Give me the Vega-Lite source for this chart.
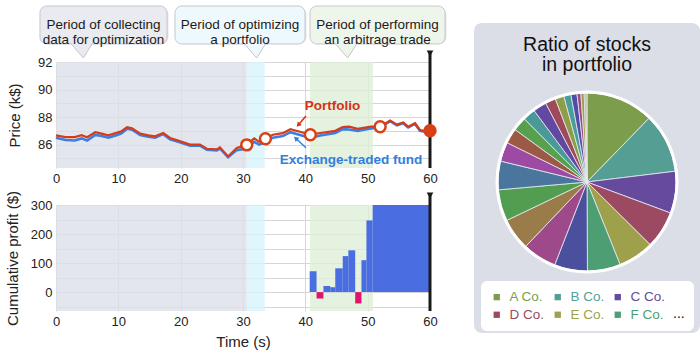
{
  "$schema": "https://vega.github.io/schema/vega-lite/v6.json",
  "padding": {"left": 5, "top": 0, "right": 2, "bottom": 3},
  "background": "white",
  "config": {
    "font": "Liberation Sans",
    "view": {"stroke": null},
    "axis": {"domain": false, "ticks": false, "labelFontSize": 13, "titleFontSize": 15, "titleFontWeight": "normal", "labelColor": "#222", "titleColor": "#222", "gridColor": "#d6d6d6", "gridOpacity": 1, "labelPadding": 4, "labelOverlap": false}
  },
  "datasets": {
    "periods": [
      {"period": "collect", "start": 0, "end": 30.6},
      {"period": "optimize", "start": 30.6, "end": 33.5},
      {"period": "trade", "start": 40.75, "end": 50.85}
    ],
    "callouts": [
      {"period": "collect", "text": "Period of collecting\ndata for optimization", "x0": -2.57, "x1": 17.81, "tip": 4.38},
      {"period": "optimize", "text": "Period of optimizing\na portfolio", "x0": 19.09, "x1": 39.95, "tip": 32.2},
      {"period": "trade", "text": "Period of performing\nan arbitrage trade", "x0": 40.75, "x1": 62.41, "tip": 46.8}
    ],
    "prices": [
      {"t": 0, "portfolio": 86.67, "etf": 86.5},
      {"t": 1.5, "portfolio": 86.55, "etf": 86.33},
      {"t": 3.0, "portfolio": 86.55, "etf": 86.3},
      {"t": 4.1, "portfolio": 86.68, "etf": 86.45},
      {"t": 5.0, "portfolio": 86.53, "etf": 86.3},
      {"t": 6.3, "portfolio": 86.9, "etf": 86.7},
      {"t": 7.3, "portfolio": 86.8, "etf": 86.62},
      {"t": 8.4, "portfolio": 86.67, "etf": 86.5},
      {"t": 9.7, "portfolio": 86.85, "etf": 86.68},
      {"t": 10.5, "portfolio": 86.97, "etf": 86.82},
      {"t": 11.4, "portfolio": 87.26, "etf": 87.15},
      {"t": 12.2, "portfolio": 87.18, "etf": 87.08},
      {"t": 13.5, "portfolio": 86.8, "etf": 86.7},
      {"t": 14.8, "portfolio": 86.67, "etf": 86.57},
      {"t": 15.9, "portfolio": 86.6, "etf": 86.5},
      {"t": 17.2, "portfolio": 86.85, "etf": 86.76},
      {"t": 18.3, "portfolio": 86.48, "etf": 86.38},
      {"t": 19.6, "portfolio": 86.29, "etf": 86.2},
      {"t": 21.5, "portfolio": 86.0, "etf": 85.92},
      {"t": 23.1, "portfolio": 86.0, "etf": 85.92},
      {"t": 24.2, "portfolio": 85.7, "etf": 85.62},
      {"t": 25.8, "portfolio": 85.65, "etf": 85.57},
      {"t": 26.3, "portfolio": 85.8, "etf": 85.72},
      {"t": 27.6, "portfolio": 85.14, "etf": 85.08},
      {"t": 29.0, "portfolio": 85.75, "etf": 85.6},
      {"t": 30.6, "portfolio": 85.98, "etf": 85.72},
      {"t": 31.8, "portfolio": 86.45, "etf": 86.2},
      {"t": 32.6, "portfolio": 86.2, "etf": 86.0},
      {"t": 33.6, "portfolio": 86.42, "etf": 86.18},
      {"t": 34.8, "portfolio": 86.72, "etf": 86.5},
      {"t": 36.4, "portfolio": 86.83, "etf": 86.62},
      {"t": 37.6, "portfolio": 87.12, "etf": 86.9},
      {"t": 39.0, "portfolio": 86.95, "etf": 86.72},
      {"t": 40.8, "portfolio": 86.72, "etf": 86.48},
      {"t": 42.4, "portfolio": 86.84, "etf": 86.66},
      {"t": 44.8, "portfolio": 87.0, "etf": 86.85},
      {"t": 46.0, "portfolio": 87.28, "etf": 87.12},
      {"t": 47.0, "portfolio": 87.3, "etf": 87.1},
      {"t": 48.4, "portfolio": 87.15, "etf": 87.0},
      {"t": 50.5, "portfolio": 87.3, "etf": 87.18},
      {"t": 52.0, "portfolio": 87.3, "etf": 87.22},
      {"t": 53.6, "portfolio": 87.74, "etf": 87.7},
      {"t": 54.7, "portfolio": 87.45, "etf": 87.4},
      {"t": 55.7, "portfolio": 87.6, "etf": 87.55},
      {"t": 56.5, "portfolio": 87.3, "etf": 87.25},
      {"t": 57.6, "portfolio": 87.55, "etf": 87.5},
      {"t": 58.4, "portfolio": 87.05, "etf": 87.0},
      {"t": 59.5, "portfolio": 86.97, "etf": 86.92},
      {"t": 60, "portfolio": 87.0, "etf": 86.95}
    ],
    "markers": [
      {"t": 30.6, "price": 85.98, "kind": "trade"},
      {"t": 33.6, "price": 86.42, "kind": "trade"},
      {"t": 40.8, "price": 86.72, "kind": "trade"},
      {"t": 52.0, "price": 87.3, "kind": "trade"},
      {"t": 60, "price": 87.0, "kind": "now"}
    ],
    "seriesLabels": [
      {"label": "Portfolio", "series": "portfolio", "t": 44.36, "p": 88.8},
      {"label": "Exchange-traded fund", "series": "etf", "t": 47.33, "p": 84.88}
    ],
    "arrows": [
      {"series": "portfolio", "t0": 40.1, "p0": 88.08, "t1": 38.87, "p1": 87.42},
      {"series": "etf", "t0": 40.1, "p0": 85.77, "t1": 38.46, "p1": 86.46}
    ],
    "profits": [
      {"t0": 40.7, "t1": 41.8, "profit": 72},
      {"t0": 41.8, "t1": 42.9, "profit": -22},
      {"t0": 42.9, "t1": 44.0, "profit": 21},
      {"t0": 44.0, "t1": 44.8, "profit": 17},
      {"t0": 44.8, "t1": 46.0, "profit": 82},
      {"t0": 46.0, "t1": 46.9, "profit": 124},
      {"t0": 46.9, "t1": 48.0, "profit": 144},
      {"t0": 48.0, "t1": 49.0, "profit": -39},
      {"t0": 49.0, "t1": 49.8, "profit": 110},
      {"t0": 49.8, "t1": 50.8, "profit": 247},
      {"t0": 50.8, "t1": 60, "profit": 300}
    ],
    "now": [{"now": 60, "top": 92, "bottom": 84.3, "ptop": 300, "pbottom": -65}],
    "stocks": [
      {"name": "A Co.", "share": 12.3}, {"name": "B Co.", "share": 10.8}, {"name": "C Co.", "share": 7.6},
      {"name": "D Co.", "share": 6.8}, {"name": "E Co.", "share": 6.5}, {"name": "F Co.", "share": 6.0},
      {"name": "G Co.", "share": 6.0}, {"name": "H Co.", "share": 6.2}, {"name": "I Co.", "share": 5.8},
      {"name": "J Co.", "share": 5.7}, {"name": "K Co.", "share": 5.2}, {"name": "L Co.", "share": 3.5},
      {"name": "M Co.", "share": 2.75}, {"name": "N Co.", "share": 2.55}, {"name": "O Co.", "share": 2.3},
      {"name": "P Co.", "share": 2.45}, {"name": "Q Co.", "share": 1.9}, {"name": "R Co.", "share": 1.6},
      {"name": "S Co.", "share": 1.3}, {"name": "T Co.", "share": 1.1}, {"name": "U Co.", "share": 0.7},
      {"name": "V Co.", "share": 0.6}, {"name": "W Co.", "share": 0.3}, {"name": "X Co.", "share": 0.2}
    ]
  },
  "hconcat": [
    {
      "vconcat": [
        {
          "width": 374,
          "height": 38,
          "data": {"name": "callouts"},
          "layer": [
            {
              "mark": {"type": "rect", "cornerRadius": 7, "fill": "#000", "opacity": 0.1, "xOffset": 1.5, "x2Offset": 1.5, "yOffset": 2, "y2Offset": 2},
              "encoding": {
                "x": {"field": "x0", "type": "quantitative", "scale": {"domain": [0, 60], "nice": false}, "axis": null},
                "x2": {"field": "x1"}
              }
            },
            {
              "mark": {"type": "rect", "cornerRadius": 7, "stroke": "#c5c7cd", "strokeWidth": 1},
              "encoding": {
                "x": {"field": "x0", "type": "quantitative", "scale": {"domain": [0, 60], "nice": false}, "axis": null},
                "x2": {"field": "x1"},
                "fill": {"condition": [{"test": "datum.period === 'collect'", "value": "#e9ebf1"}, {"test": "datum.period === 'optimize'", "value": "#eef9fd"}], "value": "#eef6eb"}
              }
            },
            {
              "mark": {"type": "point", "shape": "M -1.33 1.75 L 0 3.3 L 0.97 1.75", "size": 400, "filled": true, "opacity": 1, "stroke": "#c5c7cd", "strokeWidth": 1},
              "encoding": {
                "x": {"field": "tip", "type": "quantitative", "scale": {"domain": [0, 60], "nice": false}, "axis": null},
                "fill": {"condition": [{"test": "datum.period === 'collect'", "value": "#e9ebf1"}, {"test": "datum.period === 'optimize'", "value": "#eef9fd"}], "value": "#eef6eb"}
              }
            },
            {
              "transform": [{"calculate": "(datum.x0 + datum.x1) / 2", "as": "mid"}],
              "mark": {"type": "text", "fontSize": 13.5, "lineHeight": 15, "lineBreak": "\n", "align": "center", "baseline": "middle", "color": "#1a1a1a"},
              "encoding": {
                "x": {"field": "mid", "type": "quantitative", "scale": {"domain": [0, 60], "nice": false}, "axis": null},
                "text": {"field": "text"}
              }
            }
          ]
        },
        {
          "vconcat": [
            {
              "width": 374,
              "height": 106,
              "layer": [
                {
                  "data": {"name": "periods"},
                  "mark": {"type": "rect", "opacity": 0.8},
                  "encoding": {
                    "x": {"field": "start", "type": "quantitative", "scale": {"domain": [0, 60], "nice": false}, "axis": {"values": [0, 10, 20, 30, 40, 50, 60], "tickCount": 20, "format": "d", "title": null, "grid": true, "labelFlush": false}},
                    "x2": {"field": "end"},
                    "fill": {"condition": [{"test": "datum.period === 'collect'", "value": "#dde0ea"}, {"test": "datum.period === 'optimize'", "value": "#d8f4fc"}], "value": "#deefd8"}
                  }
                },
                {
                  "data": {"name": "prices"},
                  "mark": {"type": "line", "color": "#3a80e0", "strokeWidth": 2.6},
                  "encoding": {
                    "x": {"field": "t", "type": "quantitative", "scale": {"domain": [0, 60], "nice": false}},
                    "y": {"field": "etf", "type": "quantitative", "scale": {"domain": [84.3, 92], "nice": false, "zero": false}, "axis": {"title": "Price (k$)", "values": [85, 86, 87, 88, 89, 90, 91, 92], "tickCount": 20, "format": "d", "labelExpr": "datum.value % 2 === 0 ? datum.label : ''", "grid": true, "titlePadding": 15}}
                  }
                },
                {
                  "data": {"name": "prices"},
                  "mark": {"type": "line", "color": "#d63c1c", "strokeWidth": 2.2},
                  "encoding": {
                    "x": {"field": "t", "type": "quantitative", "scale": {"domain": [0, 60], "nice": false}},
                    "y": {"field": "portfolio", "type": "quantitative", "scale": {"domain": [84.3, 92], "nice": false, "zero": false}}
                  }
                },
                {
                  "data": {"name": "now"},
                  "mark": {"type": "rule", "color": "#1a1a1a", "strokeWidth": 3, "yOffset": -11},
                  "encoding": {
                    "x": {"field": "now", "type": "quantitative", "scale": {"domain": [0, 60], "nice": false}},
                    "y": {"field": "top", "type": "quantitative", "scale": {"domain": [84.3, 92], "nice": false, "zero": false}},
                    "y2": {"field": "bottom"}
                  }
                },
                {
                  "data": {"name": "now"},
                  "mark": {"type": "point", "shape": "triangle-down", "filled": true, "size": 45, "color": "#1a1a1a", "opacity": 1, "yOffset": -8.5},
                  "encoding": {
                    "x": {"field": "now", "type": "quantitative", "scale": {"domain": [0, 60], "nice": false}},
                    "y": {"field": "top", "type": "quantitative", "scale": {"domain": [84.3, 92], "nice": false, "zero": false}}
                  }
                },
                {
                  "data": {"name": "markers"},
                  "mark": {"type": "point", "filled": true, "opacity": 1, "stroke": "#d84015", "strokeWidth": 2.5, "size": 120},
                  "encoding": {
                    "x": {"field": "t", "type": "quantitative", "scale": {"domain": [0, 60], "nice": false}},
                    "y": {"field": "price", "type": "quantitative", "scale": {"domain": [84.3, 92], "nice": false, "zero": false}},
                    "fill": {"condition": {"test": "datum.kind === 'now'", "value": "#d84015"}, "value": "white"}
                  }
                },
                {
                  "data": {"name": "arrows"},
                  "mark": {"type": "rule", "strokeWidth": 1.5},
                  "encoding": {
                    "x": {"field": "t0", "type": "quantitative", "scale": {"domain": [0, 60], "nice": false}},
                    "x2": {"field": "t1"},
                    "y": {"field": "p0", "type": "quantitative", "scale": {"domain": [84.3, 92], "nice": false, "zero": false}},
                    "y2": {"field": "p1"},
                    "color": {"condition": {"test": "datum.series === 'etf'", "value": "#2f7fe0"}, "value": "#d83010"}
                  }
                },
                {
                  "data": {"name": "arrows"},
                  "mark": {"type": "point", "shape": "triangle-up", "filled": true, "opacity": 1, "size": 30},
                  "encoding": {
                    "x": {"field": "t1", "type": "quantitative", "scale": {"domain": [0, 60], "nice": false}},
                    "y": {"field": "p1", "type": "quantitative", "scale": {"domain": [84.3, 92], "nice": false, "zero": false}},
                    "angle": {"condition": {"test": "datum.series === 'etf'", "value": 312}, "value": 220},
                    "color": {"condition": {"test": "datum.series === 'etf'", "value": "#2f7fe0"}, "value": "#d83010"}
                  }
                },
                {
                  "data": {"name": "seriesLabels"},
                  "mark": {"type": "text", "fontSize": 13.5, "fontWeight": "bold", "align": "center", "baseline": "middle"},
                  "encoding": {
                    "x": {"field": "t", "type": "quantitative", "scale": {"domain": [0, 60], "nice": false}},
                    "y": {"field": "p", "type": "quantitative", "scale": {"domain": [84.3, 92], "nice": false, "zero": false}},
                    "text": {"field": "label"},
                    "color": {"condition": {"test": "datum.series === 'etf'", "value": "#2f7fe0"}, "value": "#d83010"}
                  }
                }
              ]
            },
            {
              "width": 374,
              "height": 106,
              "layer": [
                {
                  "data": {"name": "periods"},
                  "mark": {"type": "rect", "opacity": 0.8},
                  "encoding": {
                    "x": {"field": "start", "type": "quantitative", "scale": {"domain": [0, 60], "nice": false}, "axis": {"values": [0, 10, 20, 30, 40, 50, 60], "tickCount": 20, "format": "d", "title": "Time (s)", "grid": true, "labelFlush": false, "titlePadding": 6}},
                    "x2": {"field": "end"},
                    "fill": {"condition": [{"test": "datum.period === 'collect'", "value": "#dde0ea"}, {"test": "datum.period === 'optimize'", "value": "#d8f4fc"}], "value": "#deefd8"}
                  }
                },
                {
                  "data": {"name": "profits"},
                  "transform": [{"calculate": "0", "as": "base"}],
                  "mark": {"type": "rect"},
                  "encoding": {
                    "x": {"field": "t0", "type": "quantitative", "scale": {"domain": [0, 60], "nice": false}},
                    "x2": {"field": "t1"},
                    "y": {"field": "profit", "type": "quantitative", "scale": {"domain": [-65, 300], "nice": false, "zero": false}, "axis": {"title": "Cumulative profit ($)", "values": [-50, 0, 50, 100, 150, 200, 250, 300], "tickCount": 20, "format": "d", "labelExpr": "datum.value % 100 === 0 ? datum.label : ''", "grid": true, "titlePadding": 10}},
                    "y2": {"field": "base"},
                    "fill": {"condition": {"test": "datum.profit < 0", "value": "#e0126e"}, "value": "#4a6ee2"}
                  }
                },
                {
                  "data": {"name": "now"},
                  "mark": {"type": "rule", "color": "#1a1a1a", "strokeWidth": 3, "yOffset": -12},
                  "encoding": {
                    "x": {"field": "now", "type": "quantitative", "scale": {"domain": [0, 60], "nice": false}},
                    "y": {"field": "ptop", "type": "quantitative", "scale": {"domain": [-65, 300], "nice": false, "zero": false}},
                    "y2": {"field": "pbottom"}
                  }
                },
                {
                  "data": {"name": "now"},
                  "mark": {"type": "point", "shape": "triangle-down", "filled": true, "size": 45, "color": "#1a1a1a", "opacity": 1, "yOffset": -9.5},
                  "encoding": {
                    "x": {"field": "now", "type": "quantitative", "scale": {"domain": [0, 60], "nice": false}},
                    "y": {"field": "ptop", "type": "quantitative", "scale": {"domain": [-65, 300], "nice": false, "zero": false}}
                  }
                }
              ]
            }
          ],
          "spacing": 37,
          "bounds": "flush"
        }
      ],
      "spacing": 18,
      "bounds": "flush"
    },
    {
      "vconcat": [
        {
          "width": 226,
          "height": 1,
          "data": {"values": [{"blank": ""}]},
          "mark": {"type": "text"},
          "encoding": {"text": {"field": "blank"}}
        },
        {
          "width": 226,
          "height": 310,
          "view": {"fill": "#dbdee7", "cornerRadius": 8, "stroke": null},
          "title": {"text": ["Ratio of stocks", "in portfolio"], "fontSize": 19.5, "fontWeight": "normal", "lineHeight": 20, "offset": -52, "anchor": "middle", "color": "#111"},
          "layer": [
            {
              "data": {"name": "stocks"},
              "mark": {"type": "arc", "outerRadius": 89, "stroke": "#e9ebf2", "strokeWidth": 0.8, "yOffset": 4},
              "encoding": {
                "theta": {"field": "share", "type": "quantitative", "stack": true},
                "order": {"field": "name"},
                "color": {
                  "field": "name",
                  "type": "nominal",
                  "scale": {
                    "domain": ["A Co.", "B Co.", "C Co.", "D Co.", "E Co.", "F Co.", "G Co.", "H Co.", "I Co.", "J Co.", "K Co.", "L Co.", "M Co.", "N Co.", "O Co.", "P Co.", "Q Co.", "R Co.", "S Co.", "T Co.", "U Co.", "V Co.", "W Co.", "X Co."],
                    "range": ["#7c9e4c", "#559e93", "#654a9e", "#9c4a62", "#9ea04c", "#4e9e74", "#4b509e", "#9e4a8a", "#9a7c4a", "#529e50", "#4a769e", "#9c4aa4", "#9c5a46", "#58a04e", "#4a9898", "#6248a0", "#9e4a5a", "#8e9e48", "#4a9e9a", "#4e4ea6", "#a04a78", "#a09e48", "#4aa086", "#9a9a4a"]
                  },
                  "legend": {
                    "orient": "none",
                    "legendX": 7,
                    "legendY": 275,
                    "values": ["A Co.", "B Co.", "C Co.", "D Co.", "E Co.", "F Co."],
                    "columns": 3,
                    "direction": "horizontal",
                    "fillColor": "white",
                    "cornerRadius": 6,
                    "padding": 9,
                    "symbolType": "square",
                    "symbolSize": 40,
                    "symbolStrokeWidth": 0,
                    "symbolOpacity": 1,
                    "labelFontSize": 13.5,
                    "labelOffset": 6,
                    "columnPadding": 6,
                    "rowPadding": 3,
                    "title": "...",
                    "titleOrient": "right",
                    "titleAnchor": "end",
                    "titleBaseline": "bottom",
                    "titleFontSize": 14,
                    "titleFontWeight": "normal",
                    "titleColor": "#111",
                    "titlePadding": 8,
                    "encoding": {
                      "labels": {
                        "fill": {"value": {"expr": "datum.value === 'A Co.' ? '#7c9e4c' : datum.value === 'B Co.' ? '#559e93' : datum.value === 'C Co.' ? '#654a9e' : datum.value === 'D Co.' ? '#9c4a62' : datum.value === 'E Co.' ? '#9ea04c' : '#4e9e74'"}}
                      }
                    }
                  }
                }
              }
            },
            {
              "data": {"values": [{"ring": 1}]},
              "mark": {"type": "arc", "innerRadius": 88.5, "outerRadius": 91.5, "theta": 0, "theta2": 6.2832, "fill": "white", "yOffset": 4},
              "encoding": {}
            }
          ]
        }
      ],
      "spacing": 16,
      "bounds": "flush"
    }
  ],
  "spacing": 27,
  "resolve": {"scale": {"color": "independent"}, "legend": {"color": "independent"}}
}
